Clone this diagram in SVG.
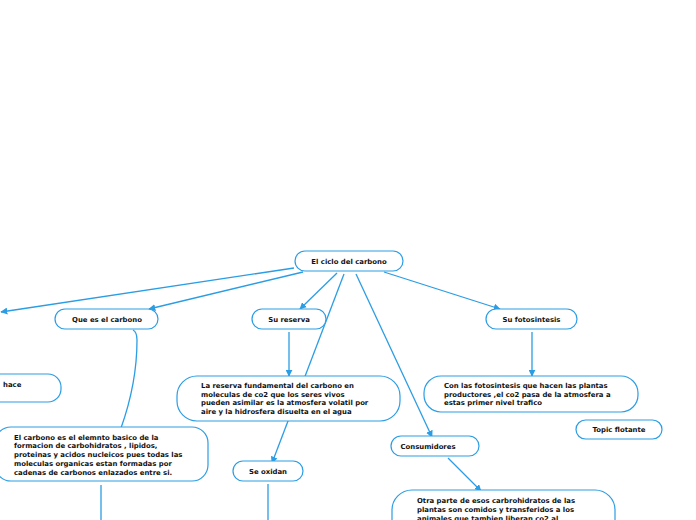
<svg xmlns="http://www.w3.org/2000/svg" width="696" height="520" viewBox="0 0 696 520">
<style>
.box{fill:#ffffff;stroke:#2b9de4;stroke-width:1.2}
.t{font-family:"DejaVu Sans",Verdana,sans-serif;font-weight:bold;font-size:6.9px;fill:#111}
.c{text-anchor:middle}
.ln{fill:none;stroke:#2b9de4;stroke-width:1.3}
</style>
<defs>
<marker id="ah" viewBox="0 0 10 10" refX="9" refY="5" markerWidth="7" markerHeight="7" markerUnits="userSpaceOnUse" orient="auto">
<path d="M0,0 L10,5 L0,10 z" fill="#2b9de4"/>
</marker>
</defs>
<rect width="696" height="520" fill="#ffffff"/>
<g id="connectors">
<line class="ln" x1="294" y1="268" x2="1" y2="312" marker-end="url(#ah)"/>
<line class="ln" x1="303" y1="272" x2="149" y2="309" marker-end="url(#ah)"/>
<line class="ln" x1="337" y1="273" x2="300" y2="309" marker-end="url(#ah)"/>
<line class="ln" x1="344" y1="274" x2="272" y2="463" marker-end="url(#ah)"/>
<line class="ln" x1="356" y1="274" x2="432" y2="437" marker-end="url(#ah)"/>
<line class="ln" x1="384" y1="272" x2="500" y2="309" marker-end="url(#ah)"/>
<path class="ln" d="M133,330 Q137,332 137,340 C137,370 131,400 121,428"/>
<line class="ln" x1="289" y1="332" x2="289" y2="376" marker-end="url(#ah)"/>
<line class="ln" x1="532" y1="332" x2="532" y2="376" marker-end="url(#ah)"/>
<line class="ln" x1="448" y1="458" x2="481" y2="491" marker-end="url(#ah)"/>
<line class="ln" x1="101" y1="485" x2="101" y2="520"/>
<line class="ln" x1="268" y1="484" x2="268" y2="520"/>
</g>
<g id="n-main">
<rect class="box" x="295" y="251" width="108" height="20" rx="10"/>
<text class="t c" x="349" y="264.3">El ciclo del carbono</text>
</g>
<g id="n-que">
<rect class="box" x="55" y="309" width="103" height="20" rx="10"/>
<text class="t c" x="107" y="322.3">Que es el carbono</text>
</g>
<g id="n-reserva">
<rect class="box" x="252" y="309" width="74" height="20" rx="10"/>
<text class="t c" x="289" y="322.3">Su reserva</text>
</g>
<g id="n-foto">
<rect class="box" x="486" y="309" width="91" height="20" rx="10"/>
<text class="t c" x="531.5" y="322.3">Su fotosintesis</text>
</g>
<g id="n-hace">
<rect class="box" x="-40" y="374" width="101" height="28" rx="13"/>
<text class="t" x="3" y="386.5">hace</text>
</g>
<g id="n-elcarbono">
<rect class="box" x="-5" y="427" width="213" height="54" rx="16"/>
<text class="t" x="14" y="439.5">El carbono es el elemnto basico de la</text>
<text class="t" x="14" y="448.3">formacion de carbohidratos , lipidos,</text>
<text class="t" x="14" y="457.1">proteinas y acidos nucleicos pues todas las</text>
<text class="t" x="14" y="465.9">moleculas organicas estan formadas por</text>
<text class="t" x="14" y="474.7">cadenas de carbonos enlazados entre si.</text>
</g>
<g id="n-reservafund">
<rect class="box" x="177" y="376" width="223" height="45" rx="20"/>
<text class="t" x="201" y="388.3">La reserva fundamental del carbono en</text>
<text class="t" x="201" y="396.8">moleculas de co2 que los seres vivos</text>
<text class="t" x="201" y="405.3">pueden asimilar es la atmosfera volatil por</text>
<text class="t" x="201" y="413.8">aire y la hidrosfera disuelta en el agua</text>
</g>
<g id="n-oxidan">
<rect class="box" x="233" y="461" width="70" height="20" rx="10"/>
<text class="t c" x="268" y="474.3">Se oxidan</text>
</g>
<g id="n-consum">
<rect class="box" x="391" y="436" width="88" height="20" rx="10"/>
<text class="t c" x="428" y="449.3">Consumidores</text>
</g>
<g id="n-otra">
<rect class="box" x="392" y="490" width="223" height="56" rx="20"/>
<text class="t" x="417" y="503.3">Otra parte de esos carbrohidratos de las</text>
<text class="t" x="417" y="512.1">plantas son comidos y transferidos a los</text>
<text class="t" x="417" y="520.9">animales que tambien liberan co2 al</text>
</g>
<g id="n-confoto">
<rect class="box" x="424" y="376" width="214" height="36" rx="17"/>
<text class="t" x="444" y="388.3">Con las fotosintesis que hacen las plantas</text>
<text class="t" x="444" y="396.8">productores ,el co2 pasa de la atmosfera a</text>
<text class="t" x="444" y="405.3">estas primer nivel trafico</text>
</g>
<g id="n-topic">
<rect class="box" x="576" y="420" width="86" height="19" rx="9.5"/>
<text class="t c" x="619" y="432.3">Topic flotante</text>
</g>
</svg>
